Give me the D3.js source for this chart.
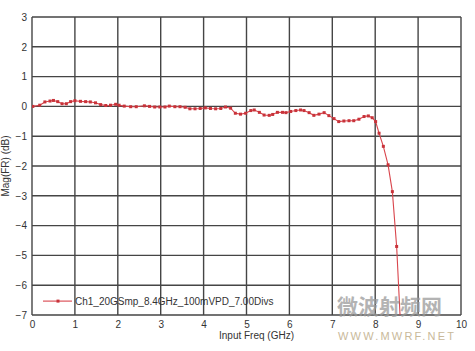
<!DOCTYPE html>
<html>
<head>
<meta charset="utf-8">
<script src="https://cdn.jsdelivr.net/npm/d3@7"></script>
<style>
body { margin: 0; background: #fff; }
text { font-family: "Liberation Sans", Arial, sans-serif; }
</style>
</head>
<body>
<div id="chart-area"></div>
<script>
var freqs = [0.02, 0.18, 0.3, 0.42, 0.5, 0.6, 0.7, 0.8, 0.9, 1.0, 1.13, 1.25, 1.36, 1.48, 1.6, 1.72, 1.83, 1.95,
	2.03, 2.15, 2.3, 2.43, 2.62, 2.74, 2.86, 2.98, 3.1, 3.2, 3.33, 3.45, 3.57, 3.68, 3.8, 3.92, 4.04, 4.16, 4.28,
	4.4, 4.51, 4.63, 4.74, 4.86, 4.98, 5.1, 5.18, 5.3, 5.41, 5.53, 5.61, 5.72, 5.84, 5.92, 6.03, 6.15, 6.26, 6.34,
	6.46, 6.57, 6.69, 6.81, 6.92, 7.04, 7.15, 7.27, 7.39, 7.5, 7.62, 7.74, 7.84, 7.93, 8.01, 8.09, 8.19, 8.3, 8.4,
	8.5, 8.62];
var mags = [0, 0.04, 0.15, 0.18, 0.2, 0.16, 0.09, 0.09, 0.16, 0.19, 0.17, 0.16, 0.15, 0.12, 0.06, 0.03, 0.04, 0.07,
	0.04, 0.01, -0.01, -0.01, 0.02, 0, -0.02, -0.02, -0.02, 0.01, -0.01, -0.01, -0.03, -0.08, -0.08, -0.07, -0.05, -0.07, -0.08,
	-0.07, -0.02, -0.06, -0.23, -0.26, -0.23, -0.14, -0.12, -0.2, -0.29, -0.3, -0.27, -0.2, -0.2, -0.21, -0.17, -0.14, -0.12, -0.14,
	-0.21, -0.3, -0.26, -0.21, -0.31, -0.41, -0.51, -0.49, -0.48, -0.48, -0.43, -0.34, -0.32, -0.38, -0.51, -0.9, -1.34, -1.96, -2.86,
	-4.7, -8.2];
var xTicks = [0, 1, 2, 3, 4, 5, 6, 7, 8, 9, 10];
var yTicks = [3, 2, 1, 0, -1, -2, -3, -4, -5, -6, -7];
var seriesName = "Ch1_20GSmp_8.4GHz_100mVPD_7.00Divs";

var margin = {top: 17, right: 14, bottom: 36, left: 32};
var width = 475 - margin.left - margin.right;
var height = 351 - margin.top - margin.bottom;

var svg = d3.select("#chart-area").append("svg")
	.attr("width", 475)
	.attr("height", 351);

var g = svg.append("g")
	.attr("transform", "translate(" + margin.left + ", " + margin.top + ")");

var x = d3.scaleLinear().domain([0, 10]).range([0, width]);
var y = d3.scaleLinear().domain([-7, 3]).range([height, 0]);

// grid
g.selectAll(".vgrid").data(xTicks).enter().append("line")
	.attr("x1", (d)=>x(d)).attr("x2", (d)=>x(d))
	.attr("y1", 0).attr("y2", height)
	.attr("stroke", "#454545").attr("stroke-width", 1.4);
g.selectAll(".hgrid").data(yTicks).enter().append("line")
	.attr("x1", 0).attr("x2", width)
	.attr("y1", (d)=>y(d)).attr("y2", (d)=>y(d))
	.attr("stroke", "#454545").attr("stroke-width", 1.4);

// axes (labels only)
var bottomAxis = d3.axisBottom(x).tickValues(xTicks).tickSize(0).tickPadding(6);
var ax = g.append("g")
	.attr("transform", "translate(0, " + height + ")")
	.call(bottomAxis);
var leftAxis = d3.axisLeft(y).tickValues(yTicks).tickSize(0).tickPadding(5);
var ay = g.append("g").call(leftAxis);
[ax, ay].forEach((a)=>{
	a.select(".domain").remove();
	a.selectAll("text").attr("font-size", "10px").attr("fill", "#333")
		.style("font-family", "'Liberation Sans', Arial, sans-serif");
});

// data line
g.append("clipPath").attr("id", "clip").append("rect")
	.attr("width", width).attr("height", height);
var pts = freqs.map((f, i)=>[f, mags[i]]);
var line = d3.line().x((d)=>x(d[0])).y((d)=>y(d[1]));
var plot = g.append("g").attr("clip-path", "url(#clip)");
plot.append("path")
	.datum(pts)
	.attr("d", line)
	.attr("fill", "none")
	.attr("stroke", "#d9454c")
	.attr("stroke-width", 1.1);
plot.selectAll(".mk").data(pts).enter().append("rect")
	.attr("x", (d)=>x(d[0]) - 1.5)
	.attr("y", (d)=>y(d[1]) - 1.5)
	.attr("width", 3).attr("height", 3)
	.attr("fill", "#c8333a");

// legend
var ly = y(-6.5) + 1;
g.append("line").attr("x1", 11).attr("x2", 40).attr("y1", ly).attr("y2", ly)
	.attr("stroke", "#d9454c").attr("stroke-width", 1.1);
g.append("rect").attr("x", 24.5).attr("y", ly - 1.5).attr("width", 3).attr("height", 3)
	.attr("fill", "#c8333a");
g.append("text").attr("x", 43).attr("y", ly + 3.5)
	.attr("font-size", "10px").attr("fill", "#333")
	.text(seriesName);

// axis labels
g.append("text")
	.attr("x", width / 2 + 10).attr("y", height + 24)
	.attr("font-size", "10px").attr("text-anchor", "middle").attr("fill", "#333")
	.text("Input Freq (GHz)");
g.append("text")
	.attr("x", -(height / 2)).attr("y", -23)
	.attr("font-size", "10px").attr("text-anchor", "middle").attr("fill", "#333")
	.attr("transform", "rotate(-90)")
	.text("Mag(FR) (dB)");

// watermark
svg.append("text").attr("x", 337).attr("y", 314)
	.attr("font-size", "21px").attr("font-weight", "bold")
	.attr("fill", "#9a9a9a").attr("opacity", 0.75)
	.style("font-family", "'Noto Sans CJK SC', sans-serif")
	.text("微波射频网");
svg.append("text").attr("x", 338).attr("y", 340)
	.attr("font-size", "11px").attr("fill", "#c9b99a")
	.attr("textLength", 116)
	.text("WWW.MWRF.NET");
</script>
</body>
</html>
